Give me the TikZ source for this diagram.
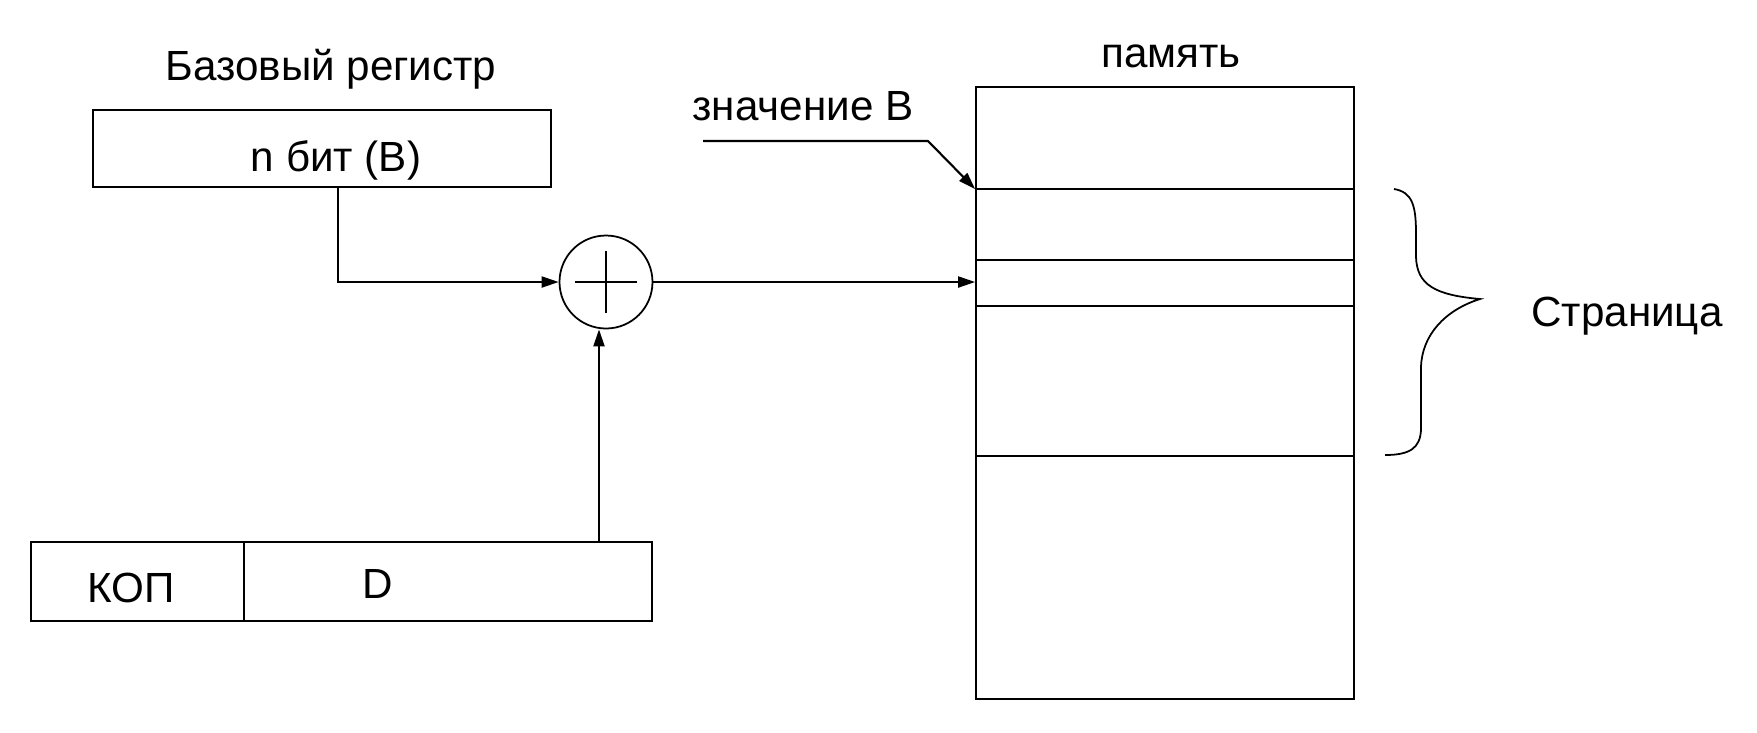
\documentclass[tikz,border=0pt]{standalone}
\usepackage{fontspec}
\setmainfont{Liberation Sans}
\usepackage{tikz}
\usetikzlibrary{arrows.meta,positioning,calc}
\tikzset{
  reg/.style={draw, rectangle, inner sep=0pt, line width=0.6pt},
  arr/.style={-{Triangle[length=1.7mm, width=1.1mm]}, line width=0.6pt},
  lbl/.style={font=\fontsize{12}{14}\selectfont, inner sep=0pt},
  adder/.style={draw, circle, minimum size=0.93cm, inner sep=0pt, line width=0.5pt}
}

\begin{document}
\begin{tikzpicture}[line width=0.6pt]
  \useasboundingbox (0,0) rectangle (17.57,-7.32);
  \node[reg, minimum width=4.58cm, minimum height=0.77cm] (base) at (3.22,-1.485) {};
  \node[lbl] (basetitle) at (3.31,-0.69) {Базовый регистр};
  \node[lbl] (basetxt) at (3.36,-1.60) {n бит (B)};
  \node[reg, minimum width=2.13cm, minimum height=0.79cm] (kop) at (1.375,-5.815) {};
  \node[reg, minimum width=4.08cm, minimum height=0.79cm] (disp) at (4.48,-5.815) {};
  \node[lbl] (koptxt) at (1.31,-5.88) {КОП};
  \node[lbl] (disptxt) at (3.78,-5.84) {D};
  \node[adder] (sum) at (6.06,-2.82) {};
  \draw[line width=0.5pt] ($(sum)+(-0.31,0)$) -- ($(sum)+(0.31,0)$) ($(sum)+(0,-0.31)$) -- ($(sum)+(0,0.31)$);
  \node[reg, line width=0.5pt, minimum width=3.78cm, minimum height=6.12cm] (mem) at (11.65,-3.93) {};
  \foreach \y in {1.89,2.60,3.06,4.56}
    \draw (mem.west |- 0,-\y) -- (mem.east |- 0,-\y);
  \node[lbl] (memtitle) at (11.71,-0.56) {память};
  \node[lbl] (bvaltxt) at (8.03,-1.06) {значение B};
  \node[lbl] (pagetxt) at (16.27,-3.16) {Страница};
  \coordinate (bdrop) at (3.38,-1.87);
  \coordinate (dtop) at (5.99,-5.42);
  \coordinate (bstart) at (7.03,-1.41);
  \coordinate (bbend) at (9.28,-1.41);
  \coordinate (bval) at (mem.west |- 0,-1.89);
  \draw[arr] (bdrop) |- (sum.west);
  \draw[arr] (dtop) -- (dtop |- sum.south);
  \draw[arr] (sum.east) -- (sum -| mem.west);
  \draw[arr] (bstart) -- (bbend) -- (bval);
  \draw[line width=0.5pt] (13.94,-1.89) .. controls (14.12,-1.92) and (14.16,-2.05) .. (14.16,-2.33)
    -- (14.16,-2.57) .. controls (14.17,-2.85) and (14.35,-2.95) .. (14.80,-2.99)
    .. controls (14.45,-3.10) and (14.22,-3.35) .. (14.21,-3.67)
    -- (14.21,-4.30) .. controls (14.20,-4.48) and (14.10,-4.55) .. (13.85,-4.55);
\end{tikzpicture}
\end{document}
